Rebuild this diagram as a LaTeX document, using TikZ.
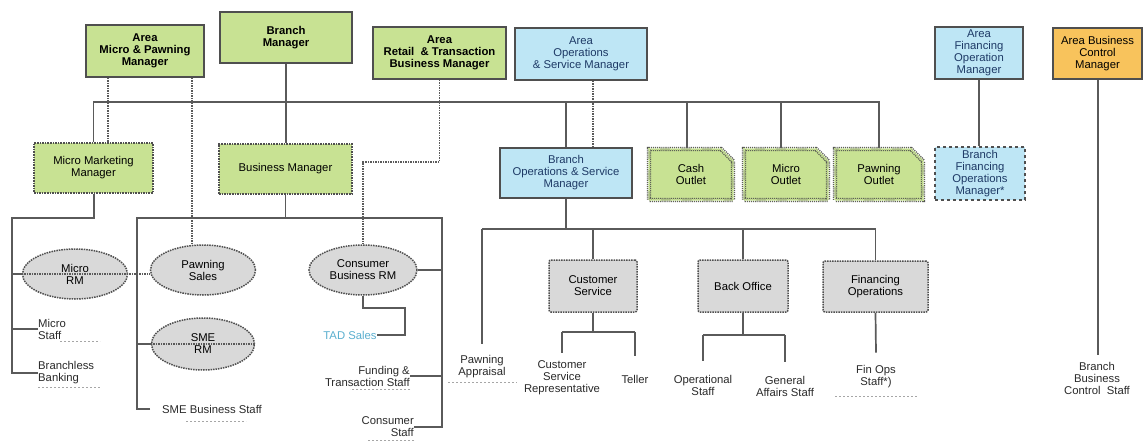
\documentclass[tikz,border=0pt]{standalone}
\usepackage{fontspec}
\setmainfont{Liberation Sans}
\usetikzlibrary{shapes.geometric,shapes.misc}
\definecolor{gfill}{HTML}{C8E293}
\definecolor{bfill}{HTML}{BEE6F5}
\definecolor{ofill}{HTML}{F8C35C}
\definecolor{grfill}{HTML}{D9D9D9}
\definecolor{edgec}{HTML}{4F4F4F}
\definecolor{linec}{HTML}{5A5A5A}
\definecolor{navy}{HTML}{1E3A66}
\definecolor{tadcol}{HTML}{5AAFCF}
\definecolor{leafc}{HTML}{2A2A2A}
\tikzset{
  base/.style={font=\fontsize{11.3}{12}\selectfont, align=center, inner sep=0pt},
  greentop/.style={base, draw=edgec, line width=1.6pt, fill=gfill, font=\fontsize{11.3}{12}\selectfont\bfseries},
  bluetop/.style={base, draw=edgec, line width=1.6pt, fill=bfill, text=navy},
  orangetop/.style={base, draw=edgec, line width=1.6pt, fill=ofill},
  greendot/.style={base, draw=edgec, line width=1.6pt, densely dotted, fill=gfill},
  outlet/.style={base, chamfered rectangle, chamfered rectangle corners=north east,
    chamfered rectangle xsep=6pt, chamfered rectangle ysep=6pt,
    draw=edgec, line width=1.1pt, double=gfill, double distance=2.2pt, densely dotted, fill=gfill},
  bluedash/.style={base, draw=edgec, line width=1.6pt, dashed, fill=bfill, text=navy},
  oval/.style={base, ellipse, draw=edgec, line width=1.5pt, densely dotted, fill=grfill},
  graybox/.style={base, draw=edgec, line width=1.5pt, densely dotted, fill=grfill, rounded corners=2pt},
  leaf/.style={base, text=leafc},
  conn/.style={draw=linec, line width=1.7pt},
  dotc/.style={draw=linec, line width=1.5pt, densely dotted},
  uline/.style={draw=gray!70, line width=1pt, dash pattern=on 2pt off 2pt}
}
\begin{document}
\begin{tikzpicture}[x=1pt,y=-1pt]
\useasboundingbox[fill=white] (0,0) rectangle (1144,444);

% top row
\node[greentop, minimum width=118, minimum height=52] (amp) at (145,51) {Area\\Micro \& Pawning\\Manager};
\node[greentop, minimum width=132, minimum height=51] (bm) at (286,37.5) {Branch\\Manager};
\node[greentop, minimum width=133, minimum height=52] (art) at (439.5,53) {Area\\Retail\ \ \& Transaction\\Business Manager};
\node[bluetop, minimum width=132, minimum height=52] (aos) at (581,54) {Area\\Operations\\\& Service Manager};
\node[bluetop, minimum width=88, minimum height=52] (afo) at (979,53) {Area\\Financing\\Operation\\Manager};
\node[orangetop, minimum width=89, minimum height=51] (abc) at (1097.5,53.5) {Area Business\\Control\\Manager};

% second row
\node[greendot, minimum width=119, minimum height=50] (mmm) at (93.5,168) {Micro Marketing\\Manager};
\node[greendot, minimum width=133, minimum height=50] (busm) at (285.5,169) {Business Manager};
\node[bluetop, minimum width=132, minimum height=50] (bos) at (566,173) {Branch\\Operations \& Service\\Manager};
\node[outlet, minimum width=84, minimum height=51] (cash) at (691,174.5) {Cash\\Outlet};
\node[outlet, minimum width=84, minimum height=51] (mo) at (786,174.5) {Micro\\Outlet};
\node[outlet, minimum width=88, minimum height=51] (po) at (879,174.5) {Pawning\\Outlet};
\node[bluedash, minimum width=90, minimum height=53] (bfo) at (980,173.5) {Branch\\Financing\\Operations\\Manager*};

% ellipses
\node[oval, minimum width=105, minimum height=50] (mrm) at (75,274) {Micro\\RM};
\node[oval, minimum width=105, minimum height=50] (ps) at (203,270) {Pawning\\Sales};
\node[oval, minimum width=103, minimum height=52] (smerm) at (203,344) {SME\\RM};
\node[oval, minimum width=108, minimum height=50] (cbrm) at (363,270) {Consumer\\Business RM};

% gray boxes
\node[graybox, minimum width=88, minimum height=52] (cs) at (593,286) {Customer\\Service};
\node[graybox, minimum width=90, minimum height=52] (bo) at (743,286) {Back Office};
\node[graybox, minimum width=105, minimum height=51] (fo) at (875.5,286.5) {Financing\\Operations};

% leaves
\node[leaf, anchor=west, align=left] (mst) at (38,329) {Micro\\Staff};
\node[leaf, anchor=west, align=left] (bless) at (38,373) {Branchless\\Banking};
\node[leaf, anchor=west, inner xsep=12pt] (smebs) at (150,409) {SME Business Staff};
\node[leaf, text=tadcol] (tad) at (350,335) {TAD Sales};
\node[leaf, anchor=east, align=right] (fts) at (410,376) {Funding \&\\Transaction Staff};
\node[leaf, anchor=east, align=right] (cst) at (414,427) {Consumer\\Staff};
\node[leaf] (pa) at (482,367) {Pawning\\Appraisal};
\node[leaf] (csr) at (562,378) {Customer\\Service\\Representative};
\node[leaf] (tel) at (635,379) {Teller};
\node[leaf] (ops) at (703,385) {Operational\\Staff};
\node[leaf] (gas) at (785,386) {General\\Affairs Staff};
\node[leaf] (fos) at (876,377) {Fin Ops\\Staff*)};
\node[leaf] (bbcs) at (1097,378) {Branch\\Business\\Control\ \ Staff};

% coordinates
\coordinate (bus) at (0,102);
\coordinate (rt) at (0,162);
\coordinate (ml) at (12,218);
\coordinate (bl) at (137,218);
\coordinate (br) at (442,218);
\coordinate (tc) at (405,308);
\coordinate (ob) at (0,229);
\coordinate (csb) at (0,332);
\coordinate (bob) at (0,335);

% main bus
\draw[conn] (mmm.north) -- (mmm.north |- bus) -- (po.north |- bus) -- (po.north);
\draw[conn] (bm.south) -- (bm.south |- busm.north);
\draw[conn] (bos.north) -- (bos.north |- bus);
\draw[conn] ([xshift=-4]cash.north) -- ([xshift=-4]cash.north |- bus);
\draw[conn] ([xshift=-5]mo.north) -- ([xshift=-5]mo.north |- bus);
\draw[conn] (afo.south) -- (afo.south |- bfo.north);
\draw[conn, line width=2pt, shorten >=7pt] (abc.south) -- (abc.south |- bbcs.north);

% dotted reporting lines
\draw[dotc] ([xshift=-37]amp.south) -- ([xshift=-37]amp.south |- mmm.north);
\draw[dotc] ([xshift=47]amp.south) -- ([xshift=47]amp.south |- ps.north);
\draw[dotc] (art.south) -- (art.south |- rt) -- (cbrm.north |- rt) -- (cbrm.north);
\draw[dotc] ([xshift=12]aos.south) -- ([xshift=12]aos.south |- bos.north);

% micro branch
\draw[conn, line width=2pt] (mmm.south) |- (ml) -- (ml |- bless.west) -- (bless.west);
\draw[conn] (ml |- mrm.west) -- (mrm.west);
\draw[conn] (ml |- mst.west) -- (mst.west);
\draw[dotc] (mrm.west) -- (mrm.west -| ps.west);

% business branch
\draw[conn] (busm.south) -- (busm.south |- bl);
\draw[conn] (smebs.west) -- (bl |- smebs.west) -- (bl) -- (br) -- (br |- cst.east) -- (cst.east);
\draw[conn] (bl |- smerm.west) -- (smerm.west);
\draw[dotc] (smerm.west) -- (smerm.east);
\draw[conn] (br |- cbrm.east) -- (cbrm.east);
\draw[conn] (br |- fts.east) -- (fts.east);
\draw[conn] (cbrm.south) |- (tc) -- (tc |- tad.east) -- (tad.east);

% operations branch
\draw[conn] (bos.south) -- (bos.south |- ob);
\draw[conn] (pa.north |- ob) -- (fo.north |- ob);
\draw[conn, shorten >=12pt] (pa.north |- ob) -- (pa.north);
\draw[conn] (cs.north |- ob) -- (cs.north);
\draw[conn] (bo.north |- ob) -- (bo.north);
\draw[conn] (fo.north |- ob) -- (fo.north);

\draw[conn] (cs.south) -- (cs.south |- csb);
\draw[conn] (csr.north |- csb) -- (tel.north |- csb);
\draw[conn, shorten >=8pt] (csr.north |- csb) -- (csr.north);
\draw[conn, shorten >=19pt] (tel.north |- csb) -- (tel.north);

\draw[conn] (bo.south) -- (bo.south |- bob);
\draw[conn] (ops.north |- bob) -- (gas.north |- bob);
\draw[conn, line width=2.2pt, shorten >=14pt] (ops.north |- bob) -- (ops.north);
\draw[conn, line width=2.2pt, shorten >=14pt] (gas.north |- bob) -- (gas.north);

\draw[conn] (fo.south) -- ([yshift=13pt]fos.north);

% dashed underlines
\draw[uline] ([xshift=22pt,yshift=-2pt]mst.south west) -- ++(40,0);
\draw[uline] ([yshift=-3pt]bless.south west) -- ++(62,0);
\draw[uline] ([xshift=-26pt,yshift=-8pt]smebs.south) -- ++(60,0);
\draw[uline] ([yshift=-3pt]fts.south east) -- ++(-60,0);
\draw[uline] ([yshift=-3pt]cst.south east) -- ++(-46,0);
\draw[uline] ([xshift=-34pt,yshift=-4pt]pa.south) -- ++(69,0);
\draw[uline] ([xshift=-41pt,yshift=-8pt]fos.south) -- ++(83,0);
\end{tikzpicture}
\end{document}
